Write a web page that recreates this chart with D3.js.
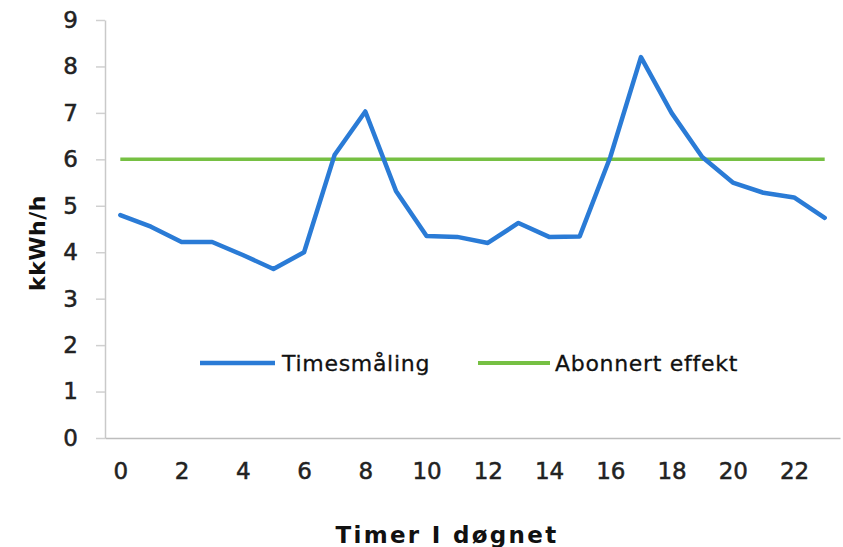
<!DOCTYPE html>
<html>
<head>
<meta charset="utf-8">
<script src="https://cdn.jsdelivr.net/npm/d3@7"></script>
<style>
  html, body { margin: 0; padding: 0; background: #fff; }
  svg { display: block; }
</style>
</head>
<body>
<svg id="chart" width="843" height="547"></svg>
<script>
// ---- data ----
const hours = d3.range(0, 24);
const timesmaling = [4.8, 4.55, 4.22, 4.22, 3.94, 3.64, 4.0, 6.1, 7.03, 5.32, 4.35, 4.33, 4.2, 4.63, 4.33, 4.34, 6.05, 8.2, 7.0, 6.05, 5.5, 5.28, 5.18, 4.74];
const abonnertEffekt = [6, 6];
const abonnertRange = [0, 23];
const yTicks = [0, 1, 2, 3, 4, 5, 6, 7, 8, 9];
const xTicks = [0, 2, 4, 6, 8, 10, 12, 14, 16, 18, 20, 22];
const seriesNames = ["Timesmåling", "Abonnert effekt"];
const yTitle = "kkWh/h";
const xTitle = "Timer I døgnet";

// ---- chart ----
const svg = d3.select("#chart");
const font = "'DejaVu Sans', Verdana, sans-serif";
const blue = "#2a7bd6";
const green = "#76c043";

const x = d3.scaleLinear().domain([-0.5, 23.5]).range([105, 840]);
const y = d3.scaleLinear().domain([0, 9]).range([438, 20]);

// y axis
const yAxis = svg.append("g")
  .attr("transform", "translate(105,0)")
  .call(d3.axisLeft(y).tickValues(yTicks).tickSize(9).tickPadding(18).tickSizeOuter(0));
yAxis.select(".domain").attr("stroke", "#c9c9c9").attr("stroke-width", 1.5);
yAxis.selectAll(".tick line").attr("stroke", "#d0d0d0").attr("stroke-width", 1.5);
yAxis.selectAll(".tick text")
  .attr("font-family", font).attr("font-size", 23).attr("fill", "#222")
  .attr("stroke", "#222").attr("stroke-width", 0.5);

// x axis
const xAxis = svg.append("g")
  .attr("transform", "translate(0,438)")
  .call(d3.axisBottom(x).tickValues(xTicks).tickSize(0).tickPadding(25).tickSizeOuter(0));
xAxis.select(".domain").attr("stroke", "#bdbdbd").attr("stroke-width", 1.5);
xAxis.selectAll(".tick text")
  .attr("font-family", font).attr("font-size", 23).attr("fill", "#222")
  .attr("stroke", "#222").attr("stroke-width", 0.5);

// green subscribed line
svg.append("path")
  .datum(abonnertRange.map((h, i) => [h, abonnertEffekt[i]]))
  .attr("fill", "none")
  .attr("stroke", green)
  .attr("stroke-width", 3.5)
  .attr("d", d3.line().x(d => x(d[0])).y(d => y(d[1])));

// blue measured line
svg.append("path")
  .datum(hours.map((h, i) => [h, timesmaling[i]]))
  .attr("fill", "none")
  .attr("stroke", blue)
  .attr("stroke-width", 4.5)
  .attr("stroke-linejoin", "round")
  .attr("stroke-linecap", "round")
  .attr("d", d3.line().x(d => x(d[0])).y(d => y(d[1])));

// legend
const legend = [
  { name: seriesNames[0], color: blue, x1: 200, x2: 275, tx: 282, w: 4.5 },
  { name: seriesNames[1], color: green, x1: 478, x2: 550, tx: 555, w: 4 }
];
legend.forEach(l => {
  svg.append("line")
    .attr("x1", l.x1).attr("x2", l.x2).attr("y1", 363).attr("y2", 363)
    .attr("stroke", l.color).attr("stroke-width", l.w);
  svg.append("text")
    .attr("x", l.tx).attr("y", 371)
    .attr("font-family", font).attr("font-size", 22)
    .attr("letter-spacing", 0.7)
    .attr("fill", "#111").attr("stroke", "#111").attr("stroke-width", 0.3)
    .text(l.name);
});

// axis titles
svg.append("text")
  .attr("transform", "translate(45,243) rotate(-90)")
  .attr("text-anchor", "middle")
  .attr("font-family", font).attr("font-weight", "bold").attr("font-size", 22)
  .attr("letter-spacing", 0.5)
  .attr("fill", "#111")
  .text(yTitle);

svg.append("text")
  .attr("x", 447).attr("y", 543)
  .attr("text-anchor", "middle")
  .attr("font-family", font).attr("font-weight", "bold").attr("font-size", 23)
  .attr("letter-spacing", 2.3)
  .attr("fill", "#111")
  .text(xTitle);
</script>
</body>
</html>
